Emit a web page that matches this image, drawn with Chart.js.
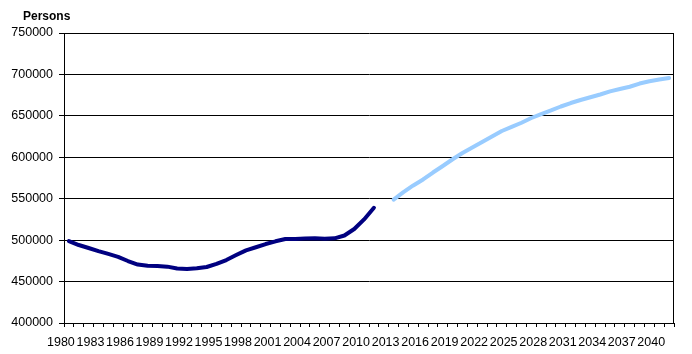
<!DOCTYPE html>
<html>
<head>
<meta charset="utf-8">
<script src="https://cdn.jsdelivr.net/npm/chart.js@4/dist/chart.umd.min.js"></script>
<style>
  body { margin: 0; background: #fff; }
  #wrap { width: 692px; height: 354px; }
</style>
</head>
<body>
<div id="wrap"><canvas id="grafico" width="692" height="354"></canvas></div>
<script>
// ── datos ──
const years = [];
for (let y = 1980; y <= 2041; y++) years.push(String(y));

// población registrada 1980-2011
const observed = [
    498800, 494100, 490500, 486700, 483400, 479900, 474800, 470500, 469000, 468800,
    468000, 465800, 465200, 466000, 467600, 471300, 476000, 482000, 487700, 491400,
    495300, 498600, 501400, 501400, 501900, 502200, 501600, 502200, 505600, 513400,
    525000, 539000
];
// proyección 2013-2041
const projected = [
    549000, 558000, 566000, 573200, 581600, 589500, 597600, 605200, 611800, 618400,
    625100, 631700, 636600, 641700, 647400, 652200, 656500, 661300, 665500, 669100,
    672400, 675800, 679600, 682400, 685100, 689000, 691800, 693900, 695700
];
const yTicks = [400000, 450000, 500000, 550000, 600000, 650000, 700000, 750000];

const FONT = "'Liberation Sans', Arial, sans-serif";

document.addEventListener('DOMContentLoaded', () => {

    const dataObserved = years.map((y, i) => i < observed.length ? observed[i] : null);
    const startProj = years.indexOf('2013');
    const dataProjected = years.map((y, i) => i >= startProj ? projected[i - startProj] : null);

    // título "Persons" y borde derecho del área
    const extras = {
        id: 'extras',
        afterDraw(chart) {
            const ctx = chart.ctx;
            const a = chart.chartArea;
            ctx.save();
            ctx.strokeStyle = '#000';
            ctx.lineWidth = 1;
            ctx.beginPath();
            ctx.moveTo(Math.round(a.right) - 0.5, Math.round(a.top) + 0.5);
            ctx.lineTo(Math.round(a.right) - 0.5, Math.round(a.bottom) + 0.5);
            ctx.stroke();
            ctx.fillStyle = '#000';
            ctx.font = 'bold 12px ' + FONT;
            ctx.textBaseline = 'alphabetic';
            ctx.fillText('Persons', 23, 20);
            ctx.restore();
        }
    };

    new Chart(document.getElementById('grafico').getContext('2d'), {
        type: 'line',
        data: {
            labels: years,
            datasets: [
                {
                    data: dataObserved,
                    borderColor: '#000080',
                    borderWidth: 4,
                    pointRadius: 0,
                    tension: 0,
                    borderCapStyle: 'round',
                    borderJoinStyle: 'round',
                    spanGaps: false
                },
                {
                    data: dataProjected,
                    borderColor: '#99CCFF',
                    borderWidth: 4,
                    pointRadius: 0,
                    tension: 0,
                    borderCapStyle: 'round',
                    borderJoinStyle: 'round',
                    spanGaps: false
                }
            ]
        },
        options: {
            responsive: false,
            animation: false,
            layout: { padding: { top: 33, right: 18, left: 0, bottom: 0 } },
            plugins: {
                legend: { display: false },
                tooltip: { enabled: false }
            },
            scales: {
                x: {
                    type: 'category',
                    offset: true,
                    afterFit: s => { s.height = 31; },
                    grid: {
                        offset: true,
                        drawOnChartArea: false,
                        color: '#000',
                        tickLength: 4
                    },
                    border: { color: '#000', width: 1 },
                    ticks: {
                        autoSkip: false,
                        maxRotation: 0,
                        minRotation: 0,
                        padding: 8,
                        labelOffset: -8,
                        color: '#000',
                        font: { family: FONT, size: 12.5 },
                        callback: (v, i) => i % 3 === 0 ? years[i] : ''
                    }
                },
                y: {
                    min: 400000,
                    max: 750000,
                    afterFit: s => { s.width = 64; },
                    afterBuildTicks: s => { s.ticks = yTicks.map(v => ({ value: v })); },
                    grid: { color: '#000', tickLength: 5 },
                    border: { color: '#000', width: 1 },
                    ticks: {
                        padding: 6,
                        color: '#000',
                        font: { family: FONT, size: 12.5 },
                        callback: v => String(v)
                    }
                }
            }
        },
        plugins: [extras]
    });

});
</script>
</body>
</html>
